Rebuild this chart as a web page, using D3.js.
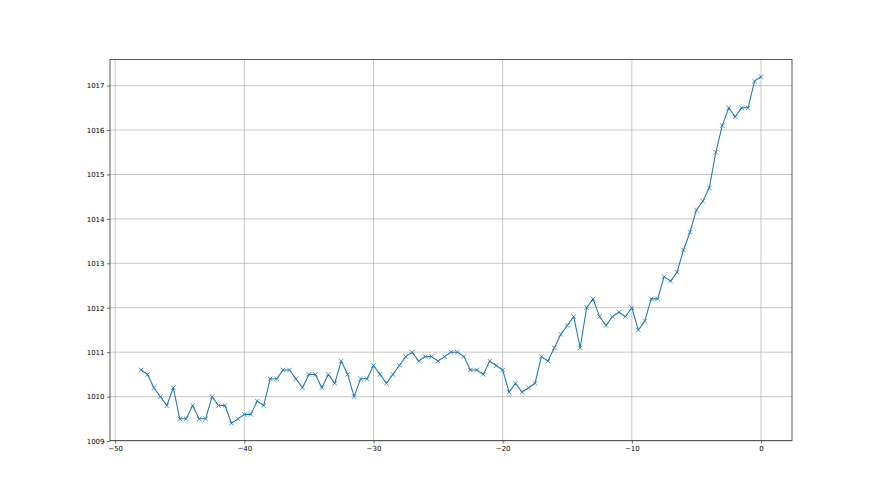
<!DOCTYPE html>
<html>
<head>
<meta charset="utf-8">
<script src="https://cdnjs.cloudflare.com/ajax/libs/d3/7.8.5/d3.min.js"></script>
<style>
  body { margin: 0; background: #fff; }
  svg { display: block; }
  .tick text { font-family: "DejaVu Sans", sans-serif; font-size: 7px; fill: #000; }
</style>
</head>
<body>
<svg width="880" height="495"></svg>
<script>
// x positions (hours), half-step from -48 to 0
let hours = [
  -48, -47.5, -47, -46.5, -46, -45.5, -45, -44.5, -44, -43.5,
  -43, -42.5, -42, -41.5, -41, -40.5, -40, -39.5, -39, -38.5,
  -38, -37.5, -37, -36.5, -36, -35.5, -35, -34.5, -34, -33.5,
  -33, -32.5, -32, -31.5, -31, -30.5, -30, -29.5, -29, -28.5,
  -28, -27.5, -27, -26.5, -26, -25.5, -25, -24.5, -24, -23.5,
  -23, -22.5, -22, -21.5, -21, -20.5, -20, -19.5, -19, -18.5,
  -18, -17.5, -17, -16.5, -16, -15.5, -15, -14.5, -14, -13.5,
  -13, -12.5, -12, -11.5, -11, -10.5, -10, -9.5, -9, -8.5,
  -8, -7.5, -7, -6.5, -6, -5.5, -5, -4.5, -4, -3.5,
  -3, -2.5, -2, -1.5, -1, -0.5, 0
];

// pressure readings
let pressure = [
  1010.6, 1010.5, 1010.2, 1010.0, 1009.8, 1010.2, 1009.5, 1009.5, 1009.8, 1009.5,
  1009.5, 1010.0, 1009.8, 1009.8, 1009.4, 1009.5, 1009.6, 1009.6, 1009.9, 1009.8,
  1010.4, 1010.4, 1010.6, 1010.6, 1010.4, 1010.2, 1010.5, 1010.5, 1010.2, 1010.5,
  1010.3, 1010.8, 1010.5, 1010.0, 1010.4, 1010.4, 1010.7, 1010.5, 1010.3, 1010.5,
  1010.7, 1010.9, 1011.0, 1010.8, 1010.9, 1010.9, 1010.8, 1010.9, 1011.0, 1011.0,
  1010.9, 1010.6, 1010.6, 1010.5, 1010.8, 1010.7, 1010.6, 1010.1, 1010.3, 1010.1,
  1010.2, 1010.3, 1010.9, 1010.8, 1011.1, 1011.4, 1011.6, 1011.8, 1011.1, 1012.0,
  1012.2, 1011.8, 1011.6, 1011.8, 1011.9, 1011.8, 1012.0, 1011.5, 1011.7, 1012.2,
  1012.2, 1012.7, 1012.6, 1012.8, 1013.3, 1013.7, 1014.2, 1014.4, 1014.7, 1015.5,
  1016.1, 1016.5, 1016.3, 1016.5, 1016.5, 1017.1, 1017.2
];

let xTicks = [-50, -40, -30, -20, -10, 0];
let yTicks = [1009, 1010, 1011, 1012, 1013, 1014, 1015, 1016, 1017];

let svg = d3.select('svg');
let plotLeft = 110, plotRight = 792, plotTop = 59.4, plotBottom = 440.6;

let data = hours.map((h, i) => ({ x: h, y: pressure[i] }));

// matplotlib style 5% margins
let xr = d3.extent(hours), yr = d3.extent(pressure);
let xm = (xr[1] - xr[0]) * 0.05, ym = (yr[1] - yr[0]) * 0.05;

let x = d3.scaleLinear().domain([xr[0] - xm, xr[1] + xm]).range([plotLeft, plotRight]);
let y = d3.scaleLinear().domain([yr[0] - ym, yr[1] + ym]).range([plotBottom, plotTop]);

let fmt = d => d3.format('d')(d).replace('-', '\u2212');

// grid
svg.append('g').selectAll('line')
  .data(xTicks).enter().append('line')
    .attr('x1', d => x(d)).attr('x2', d => x(d))
    .attr('y1', plotTop).attr('y2', plotBottom)
    .attr('stroke', '#b0b0b0').attr('stroke-width', 0.7);

svg.append('g').selectAll('line')
  .data(yTicks).enter().append('line')
    .attr('x1', plotLeft).attr('x2', plotRight)
    .attr('y1', d => y(d)).attr('y2', d => y(d))
    .attr('stroke', '#b0b0b0').attr('stroke-width', 0.7);

// axes
let xAxis = svg.append('g')
  .attr('transform', `translate(0,${plotBottom})`)
  .call(d3.axisBottom(x).tickValues(xTicks).tickFormat(fmt).tickSize(3).tickPadding(2.5));

let yAxis = svg.append('g')
  .attr('transform', `translate(${plotLeft},0)`)
  .call(d3.axisLeft(y).tickValues(yTicks).tickFormat(fmt).tickSize(3).tickPadding(2.5));

xAxis.select('.domain').remove();
yAxis.select('.domain').remove();
svg.selectAll('.tick line').attr('stroke', '#333').attr('stroke-width', 0.7);

// line
let line = d3.line().x(d => x(d.x)).y(d => y(d.y));

svg.append('path')
  .datum(data)
  .attr('fill', 'none')
  .attr('stroke', '#1f77b4')
  .attr('stroke-width', 1.05)
  .attr('stroke-linejoin', 'round')
  .attr('d', line);

// x markers
let m = 2.2;
svg.append('g').selectAll('path')
  .data(data).enter().append('path')
    .attr('d', d => {
      let cx = x(d.x), cy = y(d.y);
      return `M${cx - m},${cy - m}L${cx + m},${cy + m}M${cx - m},${cy + m}L${cx + m},${cy - m}`;
    })
    .attr('stroke', '#1f77b4')
    .attr('stroke-width', 0.8)
    .attr('fill', 'none');

// frame
svg.append('rect')
  .attr('x', plotLeft).attr('y', plotTop)
  .attr('width', plotRight - plotLeft).attr('height', plotBottom - plotTop)
  .attr('fill', 'none')
  .attr('stroke', '#333')
  .attr('stroke-width', 0.8);
</script>
</body>
</html>
